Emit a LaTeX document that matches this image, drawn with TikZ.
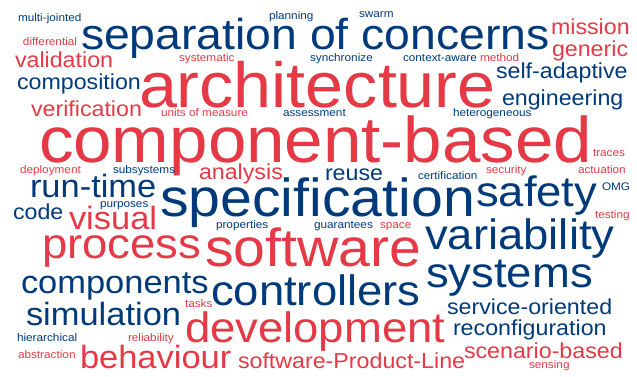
\documentclass[tikz,border=0pt]{standalone}
\usepackage{fontspec}
\setmainfont{Liberation Sans}[FakeStretch=1.07]
\definecolor{cred}{RGB}{230,57,70}
\definecolor{cblue}{RGB}{0,58,122}
\tikzset{
  wd/.style={anchor=base west, inner sep=0pt, outer sep=0pt},
  rw/.style={wd, text=cred, font=\fontsize{#1pt}{#1pt}\selectfont},
  bw/.style={wd, text=cblue, font=\fontsize{#1pt}{#1pt}\selectfont},
}
\begin{document}
\begin{tikzpicture}[x=1pt,y=-1pt]
\useasboundingbox (0,0) rectangle (637,377);
% largest
\node[rw=63.8] (architecture) at (139,108) {architecture};
\node[rw=64.6] (componentbased) at (39,162) {component-based};
\node[bw=53.5] (specification) at (160,216.5) {specification};
\node[rw=53.5] (software) at (205,266) {software};
% level 4
\node[bw=43.3] (separation) at (81,50) {separation of concerns};
\node[bw=42.5] (safety) at (476,206) {safety};
\node[bw=42.5] (variability) at (425,249.5) {variability};
\node[rw=42.5] (process) at (42,258) {process};
\node[bw=42.5] (systems) at (426,287) {systems};
\node[bw=42.5] (controllers) at (211,305) {controllers};
\node[rw=42.5] (development) at (185,342) {development};
% level 3
\node[bw=32.2] (runtime) at (30,197) {run-time};
\node[rw=32.2] (visual) at (69,229) {visual};
\node[bw=32.2] (components) at (21,293) {components};
\node[bw=32.2] (simulation) at (26,325) {simulation};
\node[rw=32.2] (behaviour) at (80,368) {behaviour};
% level 2
\node[rw=21.7] (mission) at (551,35) {mission};
\node[rw=21.7] (generic) at (552,57) {generic};
\node[rw=21.7] (validation) at (15,68) {validation};
\node[bw=21.7] (composition) at (17,89.5) {composition};
\node[bw=21.7] (selfadaptive) at (496,79) {self-adaptive};
\node[bw=21.7] (engineering) at (502,105.5) {engineering};
\node[rw=21.7] (verification) at (31,117) {verification};
\node[rw=21.7] (analysis) at (199,179) {analysis};
\node[bw=21.7] (reuse) at (325,180) {reuse};
\node[bw=21.7] (code) at (13,219) {code};
\node[bw=21.7] (serviceoriented) at (447,314) {service-oriented};
\node[bw=21.7] (reconfiguration) at (453,335) {reconfiguration};
\node[rw=21.7] (spl) at (238,368) {software-Product-Line};
\node[rw=21.7] (scenariobased) at (464,358) {scenario-based};
% small
\node[bw=11] (multijointed) at (18,22) {multi-jointed};
\node[bw=11] (planning) at (269,19.5) {planning};
\node[bw=11] (swarm) at (359,17.5) {swarm};
\node[rw=11] (differential) at (23,45.5) {differential};
\node[rw=11] (systematic) at (179,61.5) {systematic};
\node[bw=11] (synchronize) at (310,61.5) {synchronize};
\node[bw=11] (contextaware) at (403,61.5) {context-aware};
\node[rw=11] (method) at (480,61.5) {method};
\node[rw=11] (unitsofmeasure) at (161,116.7) {units of measure};
\node[bw=11] (assessment) at (283,116.7) {assessment};
\node[bw=11] (heterogeneous) at (453,116.7) {heterogeneous};
\node[rw=11] (deployment) at (20,173.5) {deployment};
\node[bw=11] (subsystems) at (113,173.5) {subsystems};
\node[bw=11] (certification) at (418,179) {certification};
\node[rw=11] (security) at (486,173) {security};
\node[rw=11] (traces) at (593,157) {traces};
\node[rw=11] (actuation) at (578,173) {actuation};
\node[bw=11] (omg) at (602,190) {OMG};
\node[rw=11] (testing) at (595,218) {testing};
\node[bw=11] (purposes) at (100,207) {purposes};
\node[bw=11] (properties) at (216,228.5) {properties};
\node[bw=11] (guarantees) at (314,228.5) {guarantees};
\node[rw=11] (space) at (380,228.5) {space};
\node[rw=11] (tasks) at (185,307) {tasks};
\node[bw=11] (hierarchical) at (17,341) {hierarchical};
\node[rw=11] (reliability) at (128,341) {reliability};
\node[rw=11] (abstraction) at (18,358) {abstraction};
\node[rw=11] (sensing) at (529,368) {sensing};
\end{tikzpicture}
\end{document}
